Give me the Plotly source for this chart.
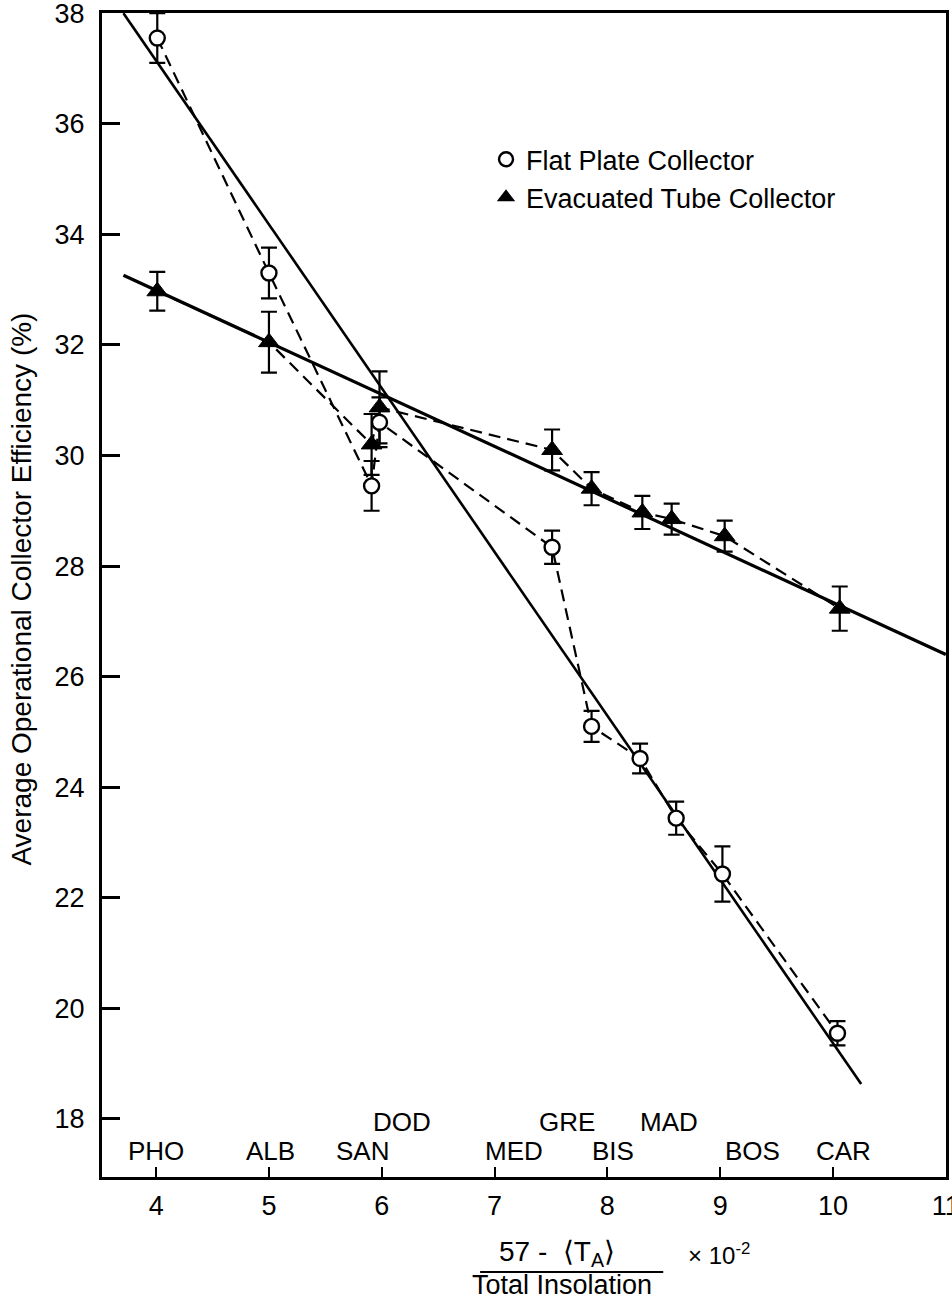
import plotly.graph_objects as go

# ---- data ----
flat_x = [4.01, 5.00, 5.91, 5.98, 7.51, 7.86, 8.29, 8.61, 9.02, 10.04]
flat_y = [37.55, 33.30, 29.45, 30.60, 28.34, 25.10, 24.52, 23.44, 22.43, 19.55]
flat_err = [0.45, 0.46, 0.45, 0.45, 0.30, 0.28, 0.27, 0.30, 0.50, 0.22]

tube_x = [4.01, 5.00, 5.91, 5.98, 7.51, 7.86, 8.31, 8.57, 9.04, 10.06]
tube_y = [32.97, 32.05, 30.20, 30.87, 30.10, 29.40, 28.97, 28.85, 28.54, 27.23]
tube_err = [0.35, 0.55, 0.55, 0.65, 0.37, 0.30, 0.30, 0.28, 0.28, 0.40]

flat_fit_x = [3.71, 10.25]
flat_fit_y = [38.0, 18.63]
tube_fit_x = [3.71, 11.0]
tube_fit_y = [33.26, 26.40]

site_names = ["PHO", "ALB", "SAN", "DOD", "MED", "GRE", "BIS", "MAD", "BOS", "CAR"]
site_x = [4.00, 5.01, 5.83, 6.18, 7.17, 7.64, 8.05, 8.55, 9.29, 10.09]
site_row = [0, 0, 0, 1, 0, 1, 0, 1, 0, 0]  # 1 = upper row

x_ticks = [4, 5, 6, 7, 8, 9, 10, 11]
y_ticks = [18, 20, 22, 24, 26, 28, 30, 32, 34, 36, 38]

FONT = "Liberation Sans, Arial, Helvetica, sans-serif"

fig = go.Figure()

# regression lines
fig.add_trace(go.Scatter(x=flat_fit_x, y=flat_fit_y, mode="lines",
                         line=dict(color="black", width=2.6), showlegend=False, hoverinfo="skip"))
fig.add_trace(go.Scatter(x=tube_fit_x, y=tube_fit_y, mode="lines",
                         line=dict(color="black", width=3.2), showlegend=False, hoverinfo="skip"))

# dashed connections with markers and error bars
fig.add_trace(go.Scatter(
    x=tube_x, y=tube_y, mode="lines+markers",
    line=dict(color="black", width=2.2, dash="12px,7px"),
    marker=dict(symbol="triangle-up", size=18, color="black", line=dict(color="black", width=1)),
    error_y=dict(type="data", array=tube_err, color="black", thickness=2.2, width=8),
    showlegend=False))
fig.add_trace(go.Scatter(
    x=flat_x, y=flat_y, mode="lines+markers",
    line=dict(color="black", width=2.2, dash="12px,7px"),
    marker=dict(symbol="circle", size=15, color="white", line=dict(color="black", width=2.4)),
    error_y=dict(type="data", array=flat_err, color="black", thickness=2.2, width=8),
    showlegend=False))

# legend entries
fig.add_trace(go.Scatter(x=[None], y=[None], mode="markers", name="Flat Plate Collector",
                         marker=dict(symbol="circle", size=14, color="white",
                                     line=dict(color="black", width=2.4))))
fig.add_trace(go.Scatter(x=[None], y=[None], mode="markers", name="Evacuated Tube Collector",
                         marker=dict(symbol="triangle-up", size=18, color="black")))

# site labels
for name, sx, row in zip(site_names, site_x, site_row):
    fig.add_annotation(x=sx, y=(17.95 if row else 17.42), xref="x", yref="y",
                       text=name, showarrow=False, xanchor="center", yanchor="middle",
                       font=dict(family=FONT, size=26, color="black"))

# y-axis title
fig.add_annotation(x=-0.0955, y=0.505, xref="paper", yref="paper", textangle=-90,
                   text="Average Operational Collector Efficiency (%)", showarrow=False,
                   xanchor="center", yanchor="middle",
                   font=dict(family=FONT, size=28, color="black"))

# x-axis title (fraction)
fig.add_annotation(x=0.539, y=-0.066, xref="paper", yref="paper",
                   text="57 -  \u27e8T<sub>A</sub>\u27e9", showarrow=False,
                   xanchor="center", yanchor="middle",
                   font=dict(family=FONT, size=28, color="black"))
fig.add_annotation(x=0.545, y=-0.0925, xref="paper", yref="paper",
                   text="Total Insolation", showarrow=False,
                   xanchor="center", yanchor="middle",
                   font=dict(family=FONT, size=27, color="black"))
fig.add_annotation(x=0.731, y=-0.066, xref="paper", yref="paper",
                   text="\u00d7 10<sup>-2</sup>", showarrow=False,
                   xanchor="center", yanchor="middle",
                   font=dict(family=FONT, size=24, color="black"))
fig.add_shape(type="line", xref="paper", yref="paper", x0=0.448, x1=0.665,
              y0=-0.0816, y1=-0.0816, line=dict(color="black", width=2))

fig.update_xaxes(range=[3.52, 11.002], tickvals=x_ticks, ticktext=[str(v) for v in x_ticks],
                 ticks="inside", ticklen=10, tickwidth=2, tickcolor="black",
                 showline=True, linewidth=3, linecolor="black", mirror=True,
                 showgrid=False, zeroline=False, ticklabelstandoff=3,
                 ticklabeloverflow="allow", automargin=False,
                 tickfont=dict(family=FONT, size=27, color="black"))
fig.update_yaxes(range=[16.95, 38.003], tickvals=y_ticks, ticktext=[str(v) for v in y_ticks],
                 ticks="inside", ticklen=18, tickwidth=3, tickcolor="black",
                 showline=True, linewidth=3, linecolor="black", mirror=True,
                 showgrid=False, zeroline=False, ticklabelstandoff=9,
                 ticklabeloverflow="allow", automargin=False,
                 tickfont=dict(family=FONT, size=27, color="black"))

fig.update_layout(
    width=952, height=1304,
    margin=dict(l=102, r=6, t=13, b=127, autoexpand=False),
    paper_bgcolor="white", plot_bgcolor="white",
    font=dict(family=FONT, color="black"),
    showlegend=True,
    legend=dict(x=0.455, y=0.895, xanchor="left", yanchor="top",
                bgcolor="rgba(0,0,0,0)", borderwidth=0,
                font=dict(family=FONT, size=27, color="black"),
                itemsizing="trace", tracegroupgap=0),
)

fig.write_html("out.html")
